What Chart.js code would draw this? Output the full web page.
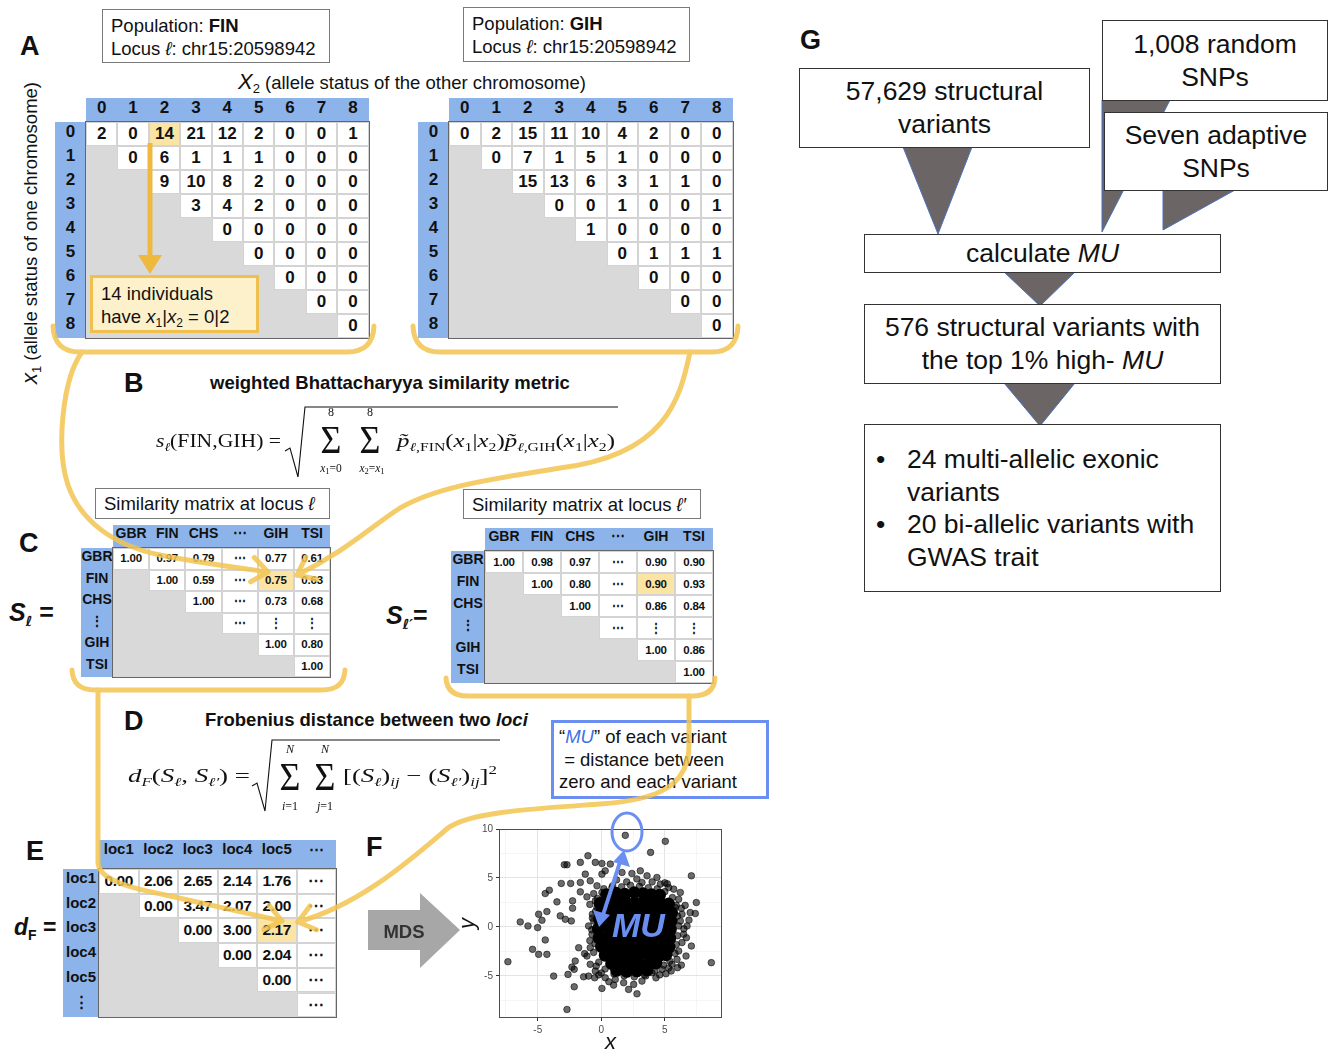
<!DOCTYPE html>
<html><head><meta charset="utf-8"><title>MU pipeline</title>
<script src="https://cdn.jsdelivr.net/npm/chart.js@4.4.1/dist/chart.umd.min.js"></script>
<style>
html,body{margin:0;padding:0;background:#fff}
body{position:relative;width:1329px;height:1053px;overflow:hidden;font-family:"Liberation Sans",Arial,Helvetica,sans-serif;color:#111}
.a{position:absolute;white-space:nowrap}
.plab{position:absolute;font-weight:bold;font-size:27px;line-height:27px;z-index:3}
.cell{position:absolute;text-align:center;box-sizing:border-box;white-space:nowrap;overflow:hidden;color:#111}
.wbox{position:absolute;background:#fff;border:1.5px solid #7a7a7a;box-sizing:border-box;font-size:18.5px;line-height:23px;padding:4px 0 0 8px;white-space:nowrap;z-index:2}
.gbox{position:absolute;background:#fff;border:1.5px solid #333;box-sizing:border-box;font-size:26.5px;line-height:33px;text-align:center;display:flex;flex-direction:column;justify-content:center;z-index:2;white-space:nowrap}
.ell{font-family:"DejaVu Sans","Liberation Sans",sans-serif}
svg.ov{position:absolute;left:0;top:0;overflow:visible;pointer-events:none}
</style></head><body>

<!-- panel letters -->
<div class="plab" style="left:20px;top:33px">A</div>
<div class="plab" style="left:124px;top:370px">B</div>
<div class="plab" style="left:19px;top:530px">C</div>
<div class="plab" style="left:124px;top:708px">D</div>
<div class="plab" style="left:26px;top:838px">E</div>
<div class="plab" style="left:366px;top:834px">F</div>
<div class="plab" style="left:800px;top:27px">G</div>

<!-- panel A labels -->
<div class="wbox" style="left:102px;top:9px;width:228px;height:54px">Population: <b>FIN</b><br>Locus <i>ℓ</i>: chr15:20598942</div>
<div class="wbox" style="left:463px;top:7px;width:227px;height:55px">Population: <b>GIH</b><br>Locus <i>ℓ</i>: chr15:20598942</div>
<div class="a" style="left:238px;top:70px;font-size:18.5px;line-height:24px"><i style="font-size:22px">X</i><span style="font-size:13px;position:relative;top:4px">2</span> (allele status of the other chromosome)</div>
<div class="a" style="left:31px;top:233px;transform:translate(-50%,-50%) rotate(-90deg);font-size:18.5px;line-height:24px"><i style="font-size:22px">x</i><span style="font-size:13px;position:relative;top:4px">1</span> (allele status of one chromosome)</div>

<!-- panel B / D titles -->
<div class="a" style="left:210px;top:372px;font-size:18.5px;font-weight:bold">weighted Bhattacharyya similarity metric</div>
<div class="a" style="left:205px;top:709px;font-size:18.5px;font-weight:bold">Frobenius distance between two <i>loci</i></div>

<!-- panel C labels -->
<div class="wbox" style="left:95px;top:488px;width:235px;height:31px;padding-top:3px">Similarity matrix at locus <i>ℓ</i></div>
<div class="wbox" style="left:463px;top:489px;width:238px;height:30px;padding-top:3px">Similarity matrix at locus <i>ℓ′</i></div>
<div class="a" style="left:9px;top:598px;font-size:25px;font-weight:bold"><i>S</i><span class="ell" style="font-size:14px;position:relative;top:5px;font-style:italic">ℓ</span> =</div>
<div class="a" style="left:386px;top:601px;font-size:25px;font-weight:bold"><i>S</i><span class="ell" style="font-size:14px;position:relative;top:5px;font-style:italic">ℓ′</span>=</div>
<div class="a" style="left:14px;top:914px;font-size:23px;font-weight:bold"><i>d</i><span style="font-size:14px;position:relative;top:5px">F</span> =</div>

<!-- blue note box -->
<div class="a" style="left:551px;top:720px;width:218px;height:79px;border:3px solid #6b8ff0;box-sizing:border-box;background:#fff;z-index:4;font-size:18.5px;line-height:22.5px;padding:3px 0 0 5px">“<i style="color:#3f6fe6">MU</i>” of each variant<br>&nbsp;= distance between<br>zero and each variant</div>

<!-- G boxes -->
<div class="gbox" style="left:799px;top:68px;width:291px;height:80px"><div>57,629 structural<br>variants</div></div>
<div class="gbox" style="left:1102px;top:20px;width:226px;height:81px"><div>1,008 random<br>SNPs</div></div>
<div class="gbox" style="left:1104px;top:112px;width:224px;height:79px"><div>Seven adaptive<br>SNPs</div></div>
<div class="gbox" style="left:864px;top:234px;width:357px;height:39px"><div>calculate <i>MU</i></div></div>
<div class="gbox" style="left:864px;top:304px;width:357px;height:80px"><div>576 structural variants with<br>the top 1% high- <i>MU</i></div></div>
<div class="gbox" style="left:864px;top:424px;width:357px;height:168px;display:block;text-align:left">
  <div class="a" style="left:11px;top:18px;line-height:32.5px">•<br><br>•</div>
  <div class="a" style="left:42px;top:18px;line-height:32.5px">24 multi-allelic exonic<br>variants<br>20 bi-allelic variants with<br>GWAS trait</div>
</div>

<!-- G triangles -->
<svg class="ov" width="1329" height="1053" style="z-index:1">
  <g fill="#6b6566" stroke="#4a72c0" stroke-width="1">
    <polygon points="903,147 972,147 938,234"/>
    <polygon points="1102,100 1170,100 1102,232"/>
    <polygon points="1163,190 1235,190 1163,230"/>
    <polygon points="1004,272 1075,272 1040,306"/>
    <polygon points="1004,383 1075,383 1040,426"/>
  </g>
</svg>

<!-- formulas -->
<svg class="ov" width="1329" height="1053" style="z-index:3" font-family="'Liberation Serif','DejaVu Serif',serif" fill="#111">
  <text x="156" y="447" font-size="19" textLength="125" lengthAdjust="spacingAndGlyphs"><tspan font-style="italic">s</tspan><tspan font-size="12" font-style="italic" dy="4">ℓ</tspan><tspan dy="-4">(FIN,GIH) =</tspan></text>
  <path d="M285 451 L290 448 L298 477 L305 407 L618 407" fill="none" stroke="#111" stroke-width="1.1"/>
  <text x="331" y="453" font-size="36" text-anchor="middle" transform="translate(331 453) scale(1 1.12) translate(-331 -453)">Σ</text>
  <text x="331" y="416" font-size="12" text-anchor="middle">8</text>
  <text x="331" y="472" font-size="11.5" text-anchor="middle"><tspan font-style="italic">x</tspan><tspan font-size="8.5" dy="2">1</tspan><tspan dy="-2">=0</tspan></text>
  <text x="370" y="453" font-size="36" text-anchor="middle" transform="translate(370 453) scale(1 1.12) translate(-370 -453)">Σ</text>
  <text x="370" y="416" font-size="12" text-anchor="middle">8</text>
  <text x="372" y="472" font-size="11.5" text-anchor="middle"><tspan font-style="italic">x</tspan><tspan font-size="8.5" dy="2">2</tspan><tspan dy="-2">=</tspan><tspan font-style="italic">x</tspan><tspan font-size="8.5" dy="2">1</tspan></text>
  <text x="397" y="447" font-size="19" textLength="218" lengthAdjust="spacingAndGlyphs"><tspan font-style="italic">p̃</tspan><tspan font-size="12" dy="4"><tspan font-style="italic">ℓ</tspan>,FIN</tspan><tspan dy="-4">(</tspan><tspan font-style="italic">x</tspan><tspan font-size="12" dy="4">1</tspan><tspan dy="-4">|</tspan><tspan font-style="italic">x</tspan><tspan font-size="12" dy="4">2</tspan><tspan dy="-4">)</tspan><tspan font-style="italic">p̃</tspan><tspan font-size="12" dy="4"><tspan font-style="italic">ℓ</tspan>,GIH</tspan><tspan dy="-4">(</tspan><tspan font-style="italic">x</tspan><tspan font-size="12" dy="4">1</tspan><tspan dy="-4">|</tspan><tspan font-style="italic">x</tspan><tspan font-size="12" dy="4">2</tspan><tspan dy="-4">)</tspan></text>

  <text x="128" y="782" font-size="19" textLength="122" lengthAdjust="spacingAndGlyphs"><tspan font-style="italic">d</tspan><tspan font-size="12" font-style="italic" dy="4">F</tspan><tspan dy="-4">(</tspan><tspan font-style="italic">S</tspan><tspan font-size="12" font-style="italic" dy="4">ℓ</tspan><tspan dy="-4">, </tspan><tspan font-style="italic">S</tspan><tspan font-size="12" font-style="italic" dy="4">ℓ′</tspan><tspan dy="-4">) =</tspan></text>
  <path d="M252 786 L257 783 L265 811 L272 740 L500 740" fill="none" stroke="#111" stroke-width="1.1"/>
  <text x="290" y="790" font-size="36" text-anchor="middle" transform="translate(290 790) scale(1 1.12) translate(-290 -790)">Σ</text>
  <text x="290" y="753" font-size="12" font-style="italic" text-anchor="middle">N</text>
  <text x="290" y="810" font-size="12" text-anchor="middle"><tspan font-style="italic">i</tspan>=1</text>
  <text x="325" y="790" font-size="36" text-anchor="middle" transform="translate(325 790) scale(1 1.12) translate(-325 -790)">Σ</text>
  <text x="325" y="753" font-size="12" font-style="italic" text-anchor="middle">N</text>
  <text x="325" y="810" font-size="12" text-anchor="middle"><tspan font-style="italic">j</tspan>=1</text>
  <text x="343" y="782" font-size="19" textLength="154" lengthAdjust="spacingAndGlyphs">[(<tspan font-style="italic">S</tspan><tspan font-size="12" font-style="italic" dy="4">ℓ</tspan><tspan dy="-4">)</tspan><tspan font-size="12" font-style="italic" dy="4">ij</tspan><tspan dy="-4"> − (</tspan><tspan font-style="italic">S</tspan><tspan font-size="12" font-style="italic" dy="4">ℓ′</tspan><tspan dy="-4">)</tspan><tspan font-size="12" font-style="italic" dy="4">ij</tspan><tspan dy="-4">]</tspan><tspan font-size="12" dy="-8">2</tspan></text>
</svg>

<!-- annotation in A -->
<div class="a" style="left:90px;top:275px;width:169px;height:58px;background:#fdf1cc;border:3px solid #f0c04e;box-sizing:border-box;z-index:3;font-size:18.5px;line-height:23px;padding:4px 0 0 8px">14 individuals<br>have <i>x</i><span style="font-size:12px;position:relative;top:4px">1</span>|<i>x</i><span style="font-size:12px;position:relative;top:4px">2</span> = 0|2</div>

<!-- MDS arrow -->
<svg class="ov" width="1329" height="1053" style="z-index:3">
  <polygon points="368,910 420,910 420,893 460,930 420,968 420,950 368,950" fill="#a7a7a7"/>
  <text x="404" y="938" font-size="18.5" font-weight="bold" text-anchor="middle" fill="#333" font-family="'Liberation Sans',Arial,sans-serif">MDS</text>
</svg>

<!-- scatter -->
<div style="position:absolute;left:457px;top:812px;width:273px;height:242px;z-index:2"><canvas id="mds" width="273" height="242" style="width:273px;height:242px"></canvas></div>

<svg class="ov" id="curves" width="1329" height="1053" style="z-index:5"></svg>
<svg class="ov" id="muov" width="1329" height="1053" style="z-index:6"></svg>

<script>
// ================= DATA =================
const alleleStates = ['0','1','2','3','4','5','6','7','8'];
const finCounts = [
  [2,0,14,21,12,2,0,0,1],
  [null,0,6,1,1,1,0,0,0],
  [null,null,9,10,8,2,0,0,0],
  [null,null,null,3,4,2,0,0,0],
  [null,null,null,null,0,0,0,0,0],
  [null,null,null,null,null,0,0,0,0],
  [null,null,null,null,null,null,0,0,0],
  [null,null,null,null,null,null,null,0,0],
  [null,null,null,null,null,null,null,null,0]
];
const gihCounts = [
  [0,2,15,11,10,4,2,0,0],
  [null,0,7,1,5,1,0,0,0],
  [null,null,15,13,6,3,1,1,0],
  [null,null,null,0,0,1,0,0,1],
  [null,null,null,null,1,0,0,0,0],
  [null,null,null,null,null,0,1,1,1],
  [null,null,null,null,null,null,0,0,0],
  [null,null,null,null,null,null,null,0,0],
  [null,null,null,null,null,null,null,null,0]
];
const popCols = ['GBR','FIN','CHS','⋯','GIH','TSI'];
const popRows = ['GBR','FIN','CHS','⋮','GIH','TSI'];
const simLocusL = [
  ['1.00','0.97','0.79','⋯','0.77','0.61'],
  [null,'1.00','0.59','⋯','0.75','0.63'],
  [null,null,'1.00','⋯','0.73','0.68'],
  [null,null,null,'⋯','⋮','⋮'],
  [null,null,null,null,'1.00','0.80'],
  [null,null,null,null,null,'1.00']
];
const simLocusL2 = [
  ['1.00','0.98','0.97','⋯','0.90','0.90'],
  [null,'1.00','0.80','⋯','0.90','0.93'],
  [null,null,'1.00','⋯','0.86','0.84'],
  [null,null,null,'⋯','⋮','⋮'],
  [null,null,null,null,'1.00','0.86'],
  [null,null,null,null,null,'1.00']
];
const locCols = ['loc1','loc2','loc3','loc4','loc5','⋯'];
const locRows = ['loc1','loc2','loc3','loc4','loc5','⋮'];
const frobDist = [
  ['0.00','2.06','2.65','2.14','1.76','⋯'],
  [null,'0.00','3.47','2.07','2.00','⋯'],
  [null,null,'0.00','3.00','2.17','⋯'],
  [null,null,null,'0.00','2.04','⋯'],
  [null,null,null,null,'0.00','⋯'],
  [null,null,null,null,null,'⋯']
];
// MDS coordinates (x, y): sparse / outlying variants
const mdsOuterPoints = [
[1.89,9.35],[5.04,8.74],[3.88,7.61],[7.09,5.22],[7.48,2.49],[7.0,1.47],[7.4,1.37],[6.75,0.1],[7.09,-1.95],[6.67,-2.97],[8.66,-3.65],[5.09,-4.78],[6.0,-4.16],[2.81,-6.83],[2.15,-6.38],[0.05,-6.28],[0.97,-5.94],[-2.13,-6.11],[-2.70,-8.43],[-3.75,-5.02],[-2.62,-4.85],[-7.35,-3.55],[-5.41,-2.29],[-4.93,-2.8],[-4.28,-2.8],[-4.41,-1.33],[-6.38,0.51],[-5.77,0.1],[-5.01,-0.07],[-4.93,1.30],[-4.28,1.57],[-4.67,0.68],[-3.49,2.56],[-4.41,3.41],[-4.09,3.75],[-3.15,4.44],[-2.91,6.35],[-2.70,6.35],[-2.41,4.44],[-1.65,6.59],[-1.05,7.27],[-2.26,2.66],[-2.26,1.91],[-1.65,4.54],[-1.65,3.58],[-1.26,5.39],[-0.87,4.71],[-1.13,3.07],[-0.47,2.66],[-0.47,6.59],[0.05,6.48],[-3.23,1.13],[-2.83,0.78],[-2.36,0.61],[-1.78,-2.12],[-1.31,-2.73],[-2.05,-3.48],[-2.31,-4.10],[-2.13,-4.33],[-1.39,-5.09],[-1.0,-5.02],[-0.52,-5.19],
[0.31,5.73],[0.71,6.42],[1.63,5.56],[2.41,5.46],[3.07,5.73],[3.6,5.22],[4.38,5.05],[3.2,4.54],[4.65,4.37],[5.3,4.03],[5.7,3.86],[6.22,3.52],[6.09,2.83],[5.83,1.98],[6.35,1.30],[6.22,0.61],[6.48,-0.75],[6.35,-1.6],[6.09,-2.46],[5.96,-3.31],[5.56,-3.82],[4.78,-4.33],[3.99,-4.68],[3.2,-5.53],[2.55,-5.87],[1.76,-5.70],[1.1,-5.36],[0.31,-5.19],[-0.47,-4.5],[-0.87,-3.82],[-1.13,-2.97],[-0.87,-2.12],[-0.73,-0.75],[-0.6,0.61],[-0.34,1.98],[0.05,3.52],[0.84,4.03],[0.05,5.39],[-0.34,4.2],
[1.2,4.8],[2.0,4.6],[2.8,4.9],[4.0,4.6],[5.0,4.5],[5.5,-4.5],[4.3,-5.2],[3.5,-5.0],[0.6,-5.6],[-0.2,-4.9],[6.7,-1.1],[6.9,0.7],[6.6,2.2],[-0.9,-1.4],[-1.0,0.1],[-0.7,1.3],
[-0.6,-2.6],[-0.5,-1.7],[-0.75,-0.3],[-0.7,0.9],[-0.45,1.6],[-0.3,2.9],[0.2,3.9],[0.9,4.2],[1.6,4.1],[2.3,4.25],[3.0,4.15],[3.7,4.0],[4.4,3.9],[5.0,3.6],[5.6,3.0],[5.9,2.2],[6.0,1.1],[6.1,0.1],[6.0,-0.9],[5.9,-1.8],[5.8,-2.7],[5.4,-3.5],[4.9,-3.9],[4.2,-4.5],[3.4,-4.9],[2.6,-5.1],[1.8,-5.0],[1.0,-4.8],[0.3,-4.3],[-0.2,-3.6],[-0.4,-4.0],[0.0,-4.7],[4.6,-4.9],[5.3,-4.2],[6.3,-3.9],[6.5,-0.2],[6.3,1.9],[5.2,4.4],[-0.6,3.4],[-0.9,2.3]
];
// MDS coordinates (x, y): dense core of overlapping variants
const mdsCorePoints = [
[1.15,3.45],[1.85,3.35],[2.6,3.5],[3.3,3.4],[3.95,3.3],[4.6,3.25],[0.4,3.3],
[-0.1,2.4],[0.45,2.55],[1.2,2.5],[1.9,2.6],[2.65,2.45],[3.35,2.5],[4.0,2.55],[4.7,2.4],[5.3,2.35],
[0.05,1.6],[0.8,1.7],[1.5,1.55],[2.2,1.65],[2.9,1.6],[3.6,1.5],[4.3,1.65],[5.0,1.6],[5.55,1.45],
[-0.15,0.75],[0.6,0.65],[1.3,0.7],[2.0,0.8],[2.7,0.7],[3.4,0.6],[4.1,0.75],[4.8,0.7],[5.5,0.6],
[-0.25,-0.2],[0.5,-0.15],[1.2,-0.25],[1.9,-0.2],[2.6,-0.1],[3.3,-0.2],[4.0,-0.3],[4.7,-0.15],[5.45,-0.25],
[-0.2,-1.1],[0.5,-1.05],[1.25,-1.15],[1.95,-1.1],[2.65,-1.0],[3.35,-1.1],[4.05,-1.2],[4.75,-1.05],[5.4,-1.15],
[0.0,-2.0],[0.7,-1.95],[1.4,-2.05],[2.1,-2.0],[2.8,-1.9],[3.5,-2.0],[4.2,-2.1],[4.9,-1.95],[5.35,-2.05],
[0.3,-2.9],[1.0,-2.85],[1.7,-2.95],[2.4,-2.9],[3.1,-2.8],[3.8,-2.9],[4.5,-3.0],[5.1,-2.85],
[0.8,-3.75],[1.5,-3.85],[2.2,-3.9],[2.9,-3.8],[3.6,-3.85],[4.3,-3.7],
[1.2,-4.45],[2.0,-4.55],[2.8,-4.5],[3.6,-4.4]
];
const mdsMajorTicks = [-5,0,5,10];
const mdsXRange = [-8.05, 9.5];
const mdsYRange = [-9.3, 10.0];

// ================= TABLES =================
const BLUE = '#8db4ea';
function drawTable(o){
  const nC=o.cols.length, nR=o.rows.length;
  const x0=o.left+o.rhW, y0=o.top+o.hH, W=nC*o.cW, H=nR*o.rH;
  const add=(x,y,w,h,st,txt)=>{const d=document.createElement('div');d.className='cell';
    Object.assign(d.style,{left:x+'px',top:y+'px',width:w+'px',height:h+'px',lineHeight:h+'px',zIndex:2},st||{});
    if(txt!=null) d.textContent=txt; document.body.appendChild(d); return d;};
  add(x0,o.top,W,o.hH,{background:BLUE});
  add(o.left,y0,o.rhW,H,{background:BLUE});
  add(x0,y0,W,H,{background:'#d9d9d9'});
  o.cols.forEach((c,j)=>add(x0+j*o.cW,o.top,o.cW,o.hH,{font:o.hFont},c));
  o.rows.forEach((r,i)=>add(o.left,y0+i*o.rH,o.rhW,o.rH,{font:o.hFont},r));
  o.vals.forEach((row,i)=>row.forEach((v,j)=>{
    if(v===null) return;
    const hl=o.hl && o.hl[0]===i && o.hl[1]===j;
    add(x0+j*o.cW,y0+i*o.rH,o.cW,o.rH,{background:hl?'#fbe4a4':'#fff',border:'1px solid #d3d3d3',font:o.vFont,lineHeight:(o.rH-2)+'px',letterSpacing:o.ls||'0px'},String(v));
  }));
  add(x0-1,y0-1,W+2,H+2,{border:'1.5px solid #666',background:'transparent'});
}
const F = '"Liberation Sans",Arial,sans-serif';
drawTable({left:55,top:98,rhW:31,hH:24,cW:31.4,rH:24,cols:alleleStates,rows:alleleStates,vals:finCounts,hl:[0,2],hFont:'bold 17px '+F,vFont:'bold 17px '+F});
drawTable({left:418,top:98,rhW:31,hH:24,cW:31.5,rH:24,cols:alleleStates,rows:alleleStates,vals:gihCounts,hFont:'bold 17px '+F,vFont:'bold 17px '+F});
drawTable({left:81,top:525,rhW:32,hH:23,cW:36.2,rH:21.5,cols:popCols,rows:popRows,vals:simLocusL,hl:[1,4],hFont:'bold 14px '+F,vFont:'bold 11.5px '+F,ls:'-0.2px'});
drawTable({left:451,top:528,rhW:34,hH:23,cW:38,rH:22,cols:popCols,rows:popRows,vals:simLocusL2,hl:[1,4],hFont:'bold 14px '+F,vFont:'bold 11.5px '+F,ls:'-0.2px'});
drawTable({left:63,top:840,rhW:36,hH:29,cW:39.5,rH:24.7,cols:locCols,rows:locRows,vals:frobDist,hl:[2,4],hFont:'bold 15px '+F,vFont:'bold 15.5px '+F,ls:'-0.4px'});

// ================= DECORATIVE CURVES =================
function head(tx,ty,fx,fy,len,ang){
  const dx=tx-fx,dy=ty-fy,L=Math.hypot(dx,dy),bx=-dx/L,by=-dy/L,a=ang*Math.PI/180;
  const p=s=>{const c=Math.cos(s*a),sn=Math.sin(s*a);return [(tx+len*(bx*c-by*sn)).toFixed(1),(ty+len*(bx*sn+by*c)).toFixed(1)];};
  const p1=p(1),p2=p(-1);
  return `M${p1[0]} ${p1[1]} L${tx} ${ty} L${p2[0]} ${p2[1]}`;
}
const curvePaths = [
  'M53 326 Q54 352 80 352 L347 352 Q373 352 374 326',
  'M413 326 Q414 352 440 352 L712 352 Q737 352 738 326',
  'M82 352 C62 380 56 450 68 485 C80 520 112 545 160 555 C200 563 235 567 268 572', head(268,572,235,567,20,38),
  'M690 352 C680 400 665 455 560 468 C500 478 440 485 400 508 C372 526 345 552 297 575', head(297,575,345,552,20,38),
  'M72 670 Q73 690 95 690 L322 690 Q344 690 345 670',
  'M446 678 Q447 696 468 696 L692 696 Q714 696 715 678',
  'M98 690 L98 862 C98 880 130 888 170 896 L282 921', head(282,921,170,896,20,38),
  'M689 696 L689 745 C689 785 660 800 600 804 C530 809 470 812 448 828 C410 860 360 905 298 922', head(298,922,360,905,20,38)
];
let cs = '<g fill="none" stroke="#f3c550" stroke-width="5" stroke-linecap="round" stroke-linejoin="round" opacity="0.85">';
curvePaths.forEach(d=>{cs+=`<path d="${d}"/>`;});
cs += '</g>';
cs += '<line x1="150" y1="143" x2="150" y2="258" stroke="#efb83e" stroke-width="5"/><polygon points="138,255 162,255 150,274" fill="#efb83e"/>';
document.getElementById('curves').innerHTML = cs;

// MU annotation over scatter
const MUC = '#6b8ff0';
document.getElementById('muov').innerHTML =
  `<ellipse cx="627" cy="832" rx="15" ry="19" fill="none" stroke="${MUC}" stroke-width="3"/>`+
  `<line x1="620" y1="862" x2="603" y2="915" stroke="${MUC}" stroke-width="4"/>`+
  `<polygon points="624,850 630,867 613,862" fill="${MUC}"/>`+
  `<polygon points="599,927 593,910 610,915" fill="${MUC}"/>`+
  `<text x="612" y="937" font-size="34" font-weight="bold" font-style="italic" fill="${MUC}" font-family="'Liberation Sans',Arial,sans-serif">MU</text>`;

// ================= SCATTER (Chart.js) =================
const panelBorder = {id:'panelBorder', afterDraw(chart){
  const {ctx, chartArea:a} = chart; ctx.save(); ctx.strokeStyle='#4d4d4d'; ctx.lineWidth=1;
  ctx.strokeRect(a.left+0.5, a.top+0.5, a.right-a.left-1, a.bottom-a.top-1); ctx.restore();}};
const isMajor = c => c.tick && mdsMajorTicks.includes(c.tick.value);
const gridOpts = {color: c=>isMajor(c)?'#e4e4e4':'#f1f1f1', lineWidth: c=>isMajor(c)?1:0.7,
  tickLength:3, tickColor: c=>isMajor(c)?'#333':'rgba(0,0,0,0)', drawTicks:true};
const tickFont = {family:'Liberation Sans', size:10};
new Chart(document.getElementById('mds'), {
  type:'scatter',
  data:{datasets:[
    {data: mdsOuterPoints.map(p=>({x:p[0], y:p[1]})), pointRadius:3.3, backgroundColor:'rgba(0,0,0,0.58)', borderColor:'rgba(0,0,0,0.8)', borderWidth:0.7},
    {data: mdsCorePoints.map(p=>({x:p[0], y:p[1]})), pointRadius:6.3, backgroundColor:'#000', borderWidth:0}
  ]},
  options:{
    responsive:false, animation:false, events:[],
    layout:{padding:{top:17,right:8,left:0,bottom:0}},
    plugins:{legend:{display:false}, tooltip:{enabled:false}},
    scales:{
      x:{type:'linear', min:mdsXRange[0], max:mdsXRange[1],
         afterFit:s=>{s.height=36;},
         ticks:{stepSize:2.5, includeBounds:false, autoSkip:false, maxRotation:0, padding:3, color:'#4d4d4d', font:tickFont,
                callback:v=>mdsMajorTicks.includes(v)?String(v):''},
         grid:gridOpts, border:{display:false},
         title:{display:true, text:'x', color:'#111', padding:{top:0,bottom:0}, font:{family:'Liberation Sans', size:22, style:'italic', lineHeight:1}}},
      y:{type:'linear', min:mdsYRange[0], max:mdsYRange[1],
         afterFit:s=>{s.width=42;},
         ticks:{stepSize:2.5, includeBounds:false, autoSkip:false, padding:3, color:'#4d4d4d', font:tickFont,
                callback:v=>mdsMajorTicks.includes(v)?String(v):''},
         grid:gridOpts, border:{display:false},
         title:{display:true, text:'y', color:'#111', padding:{top:0,bottom:0}, font:{family:'Liberation Sans', size:22, style:'italic', lineHeight:1}}}
    }
  },
  plugins:[panelBorder]
});
</script>
</body></html>
